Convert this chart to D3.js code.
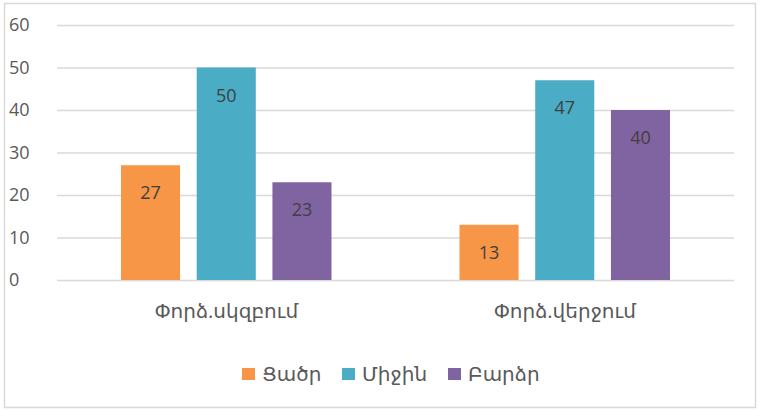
<!DOCTYPE html>
<html><head><meta charset="utf-8">
<script src="https://cdn.jsdelivr.net/npm/d3@7"></script>
<style>body{margin:0;background:#fff}svg{display:block}</style>
</head><body><svg id="c" width="760" height="411"></svg>
<script>
const categories = ["Փորձ.սկզբում", "Փորձ.վերջում"];
const seriesNames = ["Ցածր", "Միջին", "Բարձր"];
const valuesLow = [27, 13];
const valuesMid = [50, 47];
const valuesHigh = [23, 40];
const yTicks = [0, 10, 20, 30, 40, 50, 60];
const colors = ["#F79646", "#4BACC6", "#8064A2"];

const seriesValues = [valuesLow, valuesMid, valuesHigh];
const svg = d3.select("#c");
const font = "'Open Sans','DejaVu Sans',sans-serif";

svg.append("rect").attr("x", 4.5).attr("y", 3.5).attr("width", 751).attr("height", 404)
  .attr("fill", "#fff").attr("stroke", "#d9d9d9").attr("stroke-width", 1.5);

const x0 = d3.scaleBand().domain(categories).range([57, 734]).paddingInner(0).paddingOuter(0);
const x1 = d3.scaleBand().domain(seriesNames).range([64, x0.bandwidth() - 64]).paddingInner(0.22).paddingOuter(0);
const y = d3.scaleLinear().domain([0, 60]).range([280, 25]);

const yAxis = svg.append("g").attr("transform", "translate(57,0)")
  .call(d3.axisLeft(y).tickValues(yTicks).tickSize(-677).tickPadding(22));
yAxis.select(".domain").remove();
yAxis.selectAll(".tick line").attr("stroke", "#d9d9d9").attr("stroke-width", 1.5);
yAxis.selectAll(".tick text").attr("fill", "#595959").style("font-family", font).style("font-size", "18px").attr("text-anchor", "start").attr("x", -48);

const groups = svg.append("g").selectAll("g").data(categories).join("g")
  .attr("transform", d => `translate(${x0(d)},0)`);

groups.each(function(cat, ci) {
  const g = d3.select(this);
  seriesNames.forEach((s, si) => {
    const v = seriesValues[si][ci];
    g.append("rect").attr("x", x1(s)).attr("y", y(v)).attr("width", x1.bandwidth())
      .attr("height", y(0) - y(v)).attr("fill", colors[si]);
    g.append("text").attr("x", x1(s) + x1.bandwidth() / 2).attr("y", y(v) + 34)
      .attr("text-anchor", "middle").attr("fill", "#404040")
      .style("font-family", font).style("font-size", "18px").text(v);
  });
});

const xAxis = svg.append("g").attr("transform", "translate(0,280)")
  .call(d3.axisBottom(x0).tickSize(0).tickPadding(24));
xAxis.select(".domain").remove();
xAxis.selectAll(".tick text").attr("fill", "#595959").style("font-family", font).style("font-size", "20px");

const legendX = [242, 342, 448];
const legend = svg.append("g");
seriesNames.forEach((s, i) => {
  legend.append("rect").attr("x", legendX[i]).attr("y", 368).attr("width", 13).attr("height", 12).attr("fill", colors[i]);
  legend.append("text").attr("x", legendX[i] + 20).attr("y", 381).attr("fill", "#595959")
    .style("font-family", font).style("font-size", "20px").text(s);
});
</script></body></html>
